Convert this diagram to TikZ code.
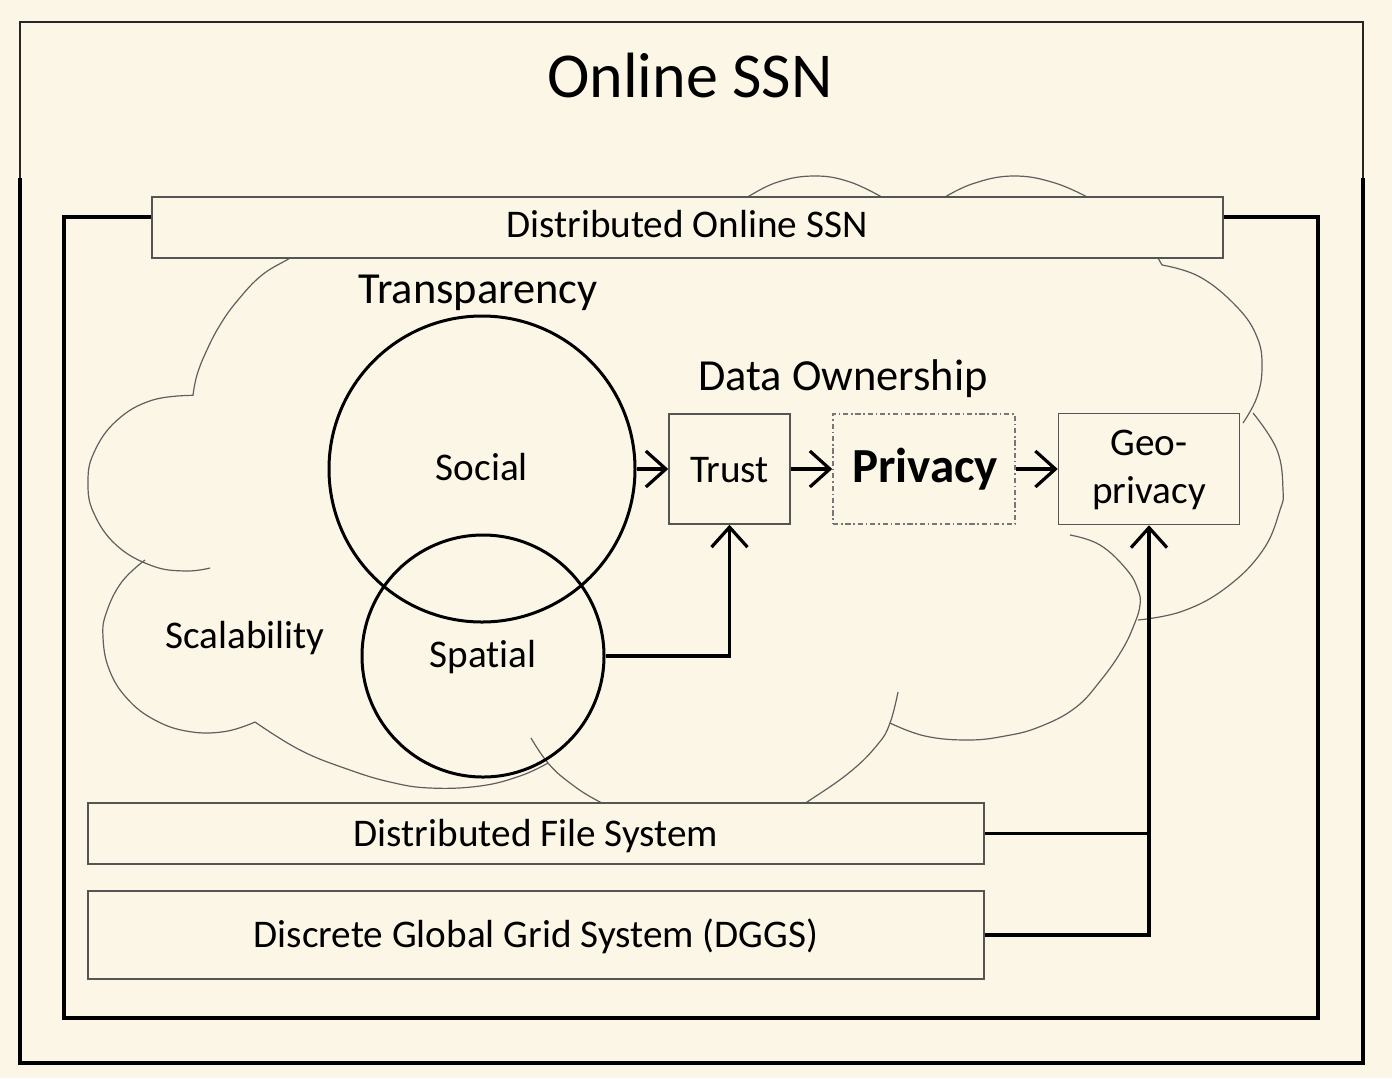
\documentclass[tikz,border=0pt]{standalone}
\usepackage{fontspec}
\setmainfont{Carlito}[Ligatures=NoCommon]
\usetikzlibrary{arrows.meta}
\definecolor{bg}{RGB}{252,246,230}
\definecolor{boxline}{RGB}{85,85,85}
\definecolor{cloudline}{RGB}{95,95,95}
\tikzset{
  thinframe/.style={draw=black!85, line width=0.8pt},
  thickframe/.style={draw=black, line width=1.6pt},
  innerframe/.style={draw=black, line width=1.9pt},
  cloudst/.style={draw=cloudline, line width=0.6pt},
  boxst/.style={draw=boxline, line width=0.75pt, fill=bg, inner sep=0pt},
  privst/.style={draw=boxline!80, line width=0.75pt, fill=bg, inner sep=0pt,
    dash pattern=on 2.6pt off 1.4pt on 0.8pt off 1.4pt},
  circst/.style={draw=black, line width=1.5pt, circle, inner sep=0pt},
  lbl/.style={font=\fontsize{19.6}{24}\selectfont, inner sep=0pt, anchor=base},
  biglbl/.style={font=\fontsize{22.2}{26}\selectfont, inner sep=0pt, anchor=base},
  conn/.style={draw=black, line width=1.6pt},
  arr/.style={draw=black, line width=1.6pt, -{Straight Barb[length=10pt,width=18pt]}},
}
\begin{document}
\begin{tikzpicture}[x=0.5pt, y=-0.5pt]
\useasboundingbox (0,0) rectangle (1392,1078);
\fill[bg] (0,0) rectangle (1392,1078);
% outer frame
\draw[thinframe] (20,178) -- (20,22) -- (1363,22) -- (1363,178);
\draw[thickframe] (20,178) -- (20,1063) -- (1363,1063) -- (1363,178);
% inner frame
\draw[innerframe] (64,217) rectangle (1318,1018);
% cloud
\draw[cloudst] plot[smooth, tension=0.7] coordinates {(300,250) (290,258) (262,275) (238,300) (220,325) (206,352) (197,375) (193,395)};
\draw[cloudst] plot[smooth, tension=0.7] coordinates {(193.5,395.3) (151.8,400.3) (116.4,420.8) (93.8,452.9) (88,483) (93.8,513.1) (116.4,545.2) (151.8,565.7) (185,571) (210.1,568)};
\draw[cloudst] plot[smooth, tension=0.7] coordinates {(145,560) (121.8,581.9) (106.5,612.2) (103,637) (109.3,669.8) (127.3,698.7) (155,720.1) (188.9,731.5) (225.1,731.5) (255,722)};
\draw[cloudst] plot[smooth, tension=0.7] coordinates {(255,722) (300,750) (347,769) (390,782) (430,788) (480,786) (520,776) (548,763)};
\draw[cloudst] plot[smooth, tension=0.7] coordinates {(531,738) (548,763) (570,783) (600,802) (650,825) (710,832) (770,825) (807,802) (850,772) (878,744) (890,723) (898,692)};
\draw[cloudst] plot[smooth, tension=0.7] coordinates {(890,723) (925,736) (968,740) (1005,736) (1039,727) (1075,708) (1101,680) (1122,650) (1134,625) (1140,605) (1138,590) (1127,570) (1100,545) (1070,535)};
\draw[cloudst] plot[smooth, tension=0.7] coordinates {(1138,620) (1183,611) (1227,587) (1263,550) (1280,510) (1283,490) (1277,450) (1253,413)};
\draw[cloudst] (1158,250) -- (1158,258) -- (1162,265);
\draw[cloudst] plot[smooth, tension=0.7] coordinates {(1162,265) (1200,277) (1237,307) (1257,337) (1262,367) (1257,397) (1243,423)};
\draw[cloudst] plot[smooth, tension=0.7] coordinates {(743,200) (775,183) (813,176) (850,182) (887,200)};
\draw[cloudst] plot[smooth, tension=0.7] coordinates {(940,200) (972,184) (1013,176) (1055,183) (1093,200)};
% boxes
\node[boxst, minimum width=535.5pt, minimum height=30.5pt] (dosn) at (687.5,227.5) {};
\node[lbl] (dosnt) at (687,237) {Distributed Online SSN};
\node[boxst, minimum width=448pt, minimum height=30.5pt] (dfs) at (536,833.5) {};
\node[lbl] (dfst) at (536,846) {Distributed File System};
\node[boxst, minimum width=448pt, minimum height=44pt] (dggs) at (536,935) {};
\node[lbl] (dggst) at (536,947) {Discrete Global Grid System (DGGS)};
\node[boxst, minimum width=60.5pt, minimum height=55pt] (trust) at (729.5,469) {};
\node[lbl] (trustt) at (729.5,482) {Trust};
\node[privst, minimum width=91pt, minimum height=55pt] (priv) at (924,469) {};
\node[font=\bfseries\fontsize{24.5}{30}\selectfont, inner sep=0pt, anchor=base] (privt) at (925,482) {Privacy};
\node[boxst, minimum width=90.5pt, minimum height=55.5pt] (geo) at (1149,469) {};
\node[lbl, align=center, anchor=north] (geot) at (1149,430) {Geo-\\privacy};
% circles
\node[circst, minimum size=153pt] (socialc) at (482,469) {};
\node[circst, minimum size=121pt] (spatialc) at (483,656) {};
% labels
\node[font=\fontsize{32}{38}\selectfont, inner sep=0pt, anchor=base] (title) at (690,97) {Online SSN};
\node[biglbl] (transp) at (478,303) {Transparency};
\node[biglbl] (owner) at (843,390) {Data Ownership};
\node[lbl] (socialt) at (482,480) {Social};
\node[lbl] (spatialt) at (483,667) {Spatial};
\node[lbl] (scal) at (245,648) {Scalability};
% connectors
\draw[arr] (socialc.east) -- (trust.west);
\draw[arr] (trust.east) -- (priv.west);
\draw[arr] (priv.east) -- (geo.west);
\draw[arr] (spatialc.east) -| (trust.south);
\draw[conn] (dfs.east) -- (dfs.east -| geo.south);
\draw[arr] (dggs.east) -| (geo.south);
\end{tikzpicture}
\end{document}
